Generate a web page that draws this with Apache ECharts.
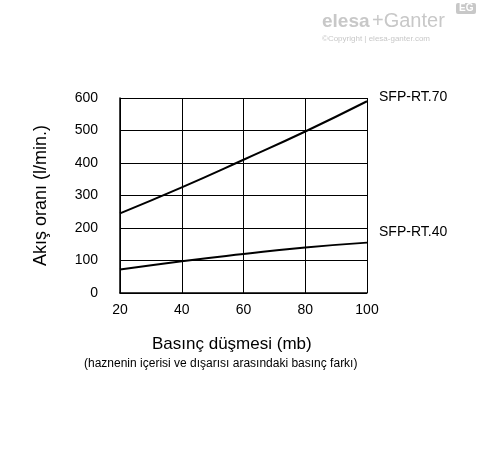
<!DOCTYPE html>
<html><head><meta charset="utf-8">
<script src="https://cdn.jsdelivr.net/npm/echarts@6/dist/echarts.min.js"></script>
<style>html,body{margin:0;background:#fff}#c{width:488px;height:454px}</style>
</head><body><div id="c"></div>
<script>
// basınç düşmesi (mb)
var pressure = [20, 40, 60, 80, 100];
// akış oranı (l/min.)
var rt70 = [245, 325, 410, 497, 590];
var rt40 = [72, 98, 120, 140, 155];

var chart = echarts.init(document.getElementById('c'));
var font = 'Liberation Sans';
chart.setOption({
    backgroundColor: '#fff',
    animation: false,
    textStyle: { fontFamily: font },
    graphic: [
        { type: 'text', left: 322, top: 12, style: { text: 'elesa', font: 'bold 19px ' + font, fill: '#c8c8c8' } },
        { type: 'text', left: 372, top: 11, style: { text: '+Ganter', font: '20px ' + font, fill: '#c8c8c8' } },
        { type: 'rect', shape: { x: 456, y: 3, width: 20, height: 11, r: 2 }, style: { fill: '#c8c8c8' } },
        { type: 'text', left: 459, top: 3, style: { text: 'EG', font: 'bold 10px ' + font, fill: '#fff' } },
        { type: 'text', left: 322, top: 35, style: { text: '©Copyright | elesa-ganter.com', font: '8px ' + font, fill: '#c8c8c8' } },
        { type: 'text', left: 152, top: 336, style: { text: 'Basınç düşmesi (mb)', font: '17px ' + font, fill: '#000' } },
        { type: 'text', left: 84, top: 358, style: { text: '(haznenin içerisi ve dışarısı arasındaki basınç farkı)', font: '12px ' + font, fill: '#000' } }
    ],
    grid: { left: 120, top: 98, width: 247, height: 195 },
    xAxis: {
        type: 'value', min: 20, max: 100, interval: 20,
        axisLine: { lineStyle: { color: '#000', width: 1.5 } },
        axisTick: { show: false },
        axisLabel: { color: '#000', fontSize: 14, margin: 10 },
        splitLine: { lineStyle: { color: '#000', width: 1 } }
    },
    yAxis: {
        type: 'value', min: 0, max: 600, interval: 100,
        name: 'Akış oranı (l/min.)', nameLocation: 'middle', nameGap: 70,
        nameTextStyle: { color: '#000', fontSize: 18 },
        axisLine: { show: true, lineStyle: { color: '#000', width: 1.5 } },
        axisTick: { show: false },
        axisLabel: { color: '#000', fontSize: 14, margin: 22 },
        splitLine: { lineStyle: { color: '#000', width: 1 } }
    },
    series: [
        { type: 'line', data: pressure.map(function (x, i) { return [x, rt70[i]]; }), smooth: true, symbol: 'none',
          lineStyle: { color: '#000', width: 2 },
          endLabel: { show: true, formatter: 'SFP-RT.70', color: '#000', fontSize: 14, offset: [4, -4] } },
        { type: 'line', data: pressure.map(function (x, i) { return [x, rt40[i]]; }), smooth: true, symbol: 'none',
          lineStyle: { color: '#000', width: 2 },
          endLabel: { show: true, formatter: 'SFP-RT.40', color: '#000', fontSize: 14, offset: [4, -10] } }
    ]
});
</script></body></html>
